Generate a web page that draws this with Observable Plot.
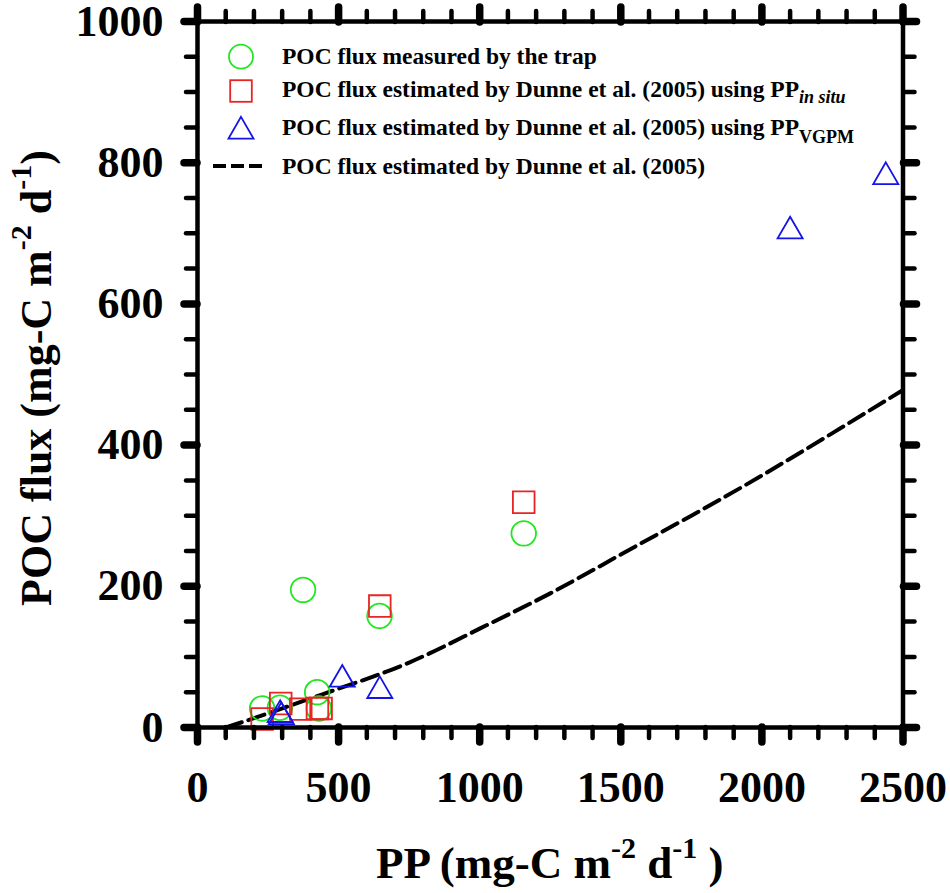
<!DOCTYPE html>
<html>
<head>
<meta charset="utf-8">
<script src="https://cdn.jsdelivr.net/npm/d3@7"></script>
<script src="https://cdn.jsdelivr.net/npm/@observablehq/plot@0.6"></script>
<style>
  html, body { margin: 0; padding: 0; background: #fff; }
  #chart { position: relative; width: 950px; height: 893px; }
</style>
</head>
<body>
<div id="chart"></div>
<script>
// ---- data ----
const trapPP   = [229, 292, 374, 424, 430, 645, 1156];
const trapPOC  = [27, 28, 195, 50, 27, 158, 275];

const insituPP  = [229, 295, 366, 425, 438, 646, 1156];
const insituPOC = [12, 34, 26, 27, 27, 172, 319];

const vgpmPP  = [293, 297, 513, 646, 2100, 2439];
const vgpmPOC = [18, 15, 68, 52, 703, 780];

const curvePP  = [100, 250, 500, 750, 1000, 1250, 1500, 1750, 2000, 2250, 2500];
const curvePOC = [0, 20, 55, 92, 140, 190, 245, 300, 357, 417, 478];

const xMajor = [0, 500, 1000, 1500, 2000, 2500];
const xMinor = [100, 200, 300, 400, 600, 700, 800, 900, 1100, 1200, 1300, 1400,
                1600, 1700, 1800, 1900, 2100, 2200, 2300, 2400];
const yMajor = [0, 200, 400, 600, 800, 1000];
const yMinor = [50, 100, 150, 250, 300, 350, 450, 500, 550, 650, 700, 750, 850, 900, 950];

const legendLabels = [
  "POC flux measured by the trap",
  "POC flux estimated by Dunne et al. (2005) using PP",
  "POC flux estimated by Dunne et al. (2005) using PP",
  "POC flux estimated by Dunne et al. (2005)"
];
const legendSubs = [null, "in situ", "VGPM", null];

const colTrap = "#22e622", colInsitu = "#e82424", colVgpm = "#1414e6";

const toRows = (xs, ys) => xs.map((x, i) => ({x, y: ys[i]}));
const trap = toRows(trapPP, trapPOC);
const insitu = toRows(insituPP, insituPOC);
const vgpm = toRows(vgpmPP, vgpmPOC);
const curve = toRows(curvePP, curvePOC);

const blank = () => "";
const font = "Liberation Serif, Times New Roman, serif";

const plot = Plot.plot({
  width: 950,
  height: 893,
  marginLeft: 197,
  marginRight: 47.5,
  marginTop: 21,
  marginBottom: 166,
  style: {fontFamily: font, fontWeight: "bold", background: "#fff", color: "#000"},
  x: {domain: [0, 2500], axis: null, label: null},
  y: {domain: [0, 1000], axis: null, label: null},
  marks: [
    Plot.line(curve, {x: "x", y: "y", curve: "natural", stroke: "#000", strokeWidth: 4, strokeDasharray: "17,7"}),
    Plot.dot(trap, {x: "x", y: "y", symbol: "circle", r: 12.3, stroke: colTrap, strokeWidth: 1.8, fill: "none"}),
    Plot.dot(insitu, {x: "x", y: "y", symbol: "square", r: 12.2, stroke: colInsitu, strokeWidth: 1.8, fill: "none"}),
    Plot.dot(vgpm, {x: "x", y: "y", symbol: "triangle", r: 9.3, stroke: colVgpm, strokeWidth: 1.8, fill: "none"}),
    Plot.frame({stroke: "#000", strokeWidth: 4.5}),
    // minor ticks
    Plot.axisX(xMinor, {anchor: "bottom", tickSize: 11, strokeWidth: 4.5, strokeLinecap: "round", tickFormat: blank, label: null}),
    Plot.axisX(xMinor, {anchor: "top", tickSize: 11, strokeWidth: 4.5, strokeLinecap: "round", tickFormat: blank, label: null}),
    Plot.axisY(yMinor, {anchor: "left", tickSize: 11, strokeWidth: 4.5, strokeLinecap: "round", tickFormat: blank, label: null}),
    Plot.axisY(yMinor, {anchor: "right", tickSize: 11, strokeWidth: 4.5, strokeLinecap: "round", tickFormat: blank, label: null}),
    // major ticks
    Plot.axisX(xMajor, {anchor: "bottom", tickSize: 15, strokeWidth: 7.5, strokeLinecap: "round", tickFormat: blank, label: null}),
    Plot.axisX(xMajor, {anchor: "top", tickSize: 15, strokeWidth: 7.5, strokeLinecap: "round", tickFormat: blank, label: null}),
    Plot.axisY(yMajor, {anchor: "left", tickSize: 13, strokeWidth: 7.5, strokeLinecap: "round", tickFormat: blank, label: null}),
    Plot.axisY(yMajor, {anchor: "right", tickSize: 13, strokeWidth: 7.5, strokeLinecap: "round", tickFormat: blank, label: null}),
    // tick labels
    Plot.axisX(xMajor, {anchor: "bottom", tickSize: 0, tickPadding: 43, fontSize: 44, tickFormat: d => String(d), label: null}),
    Plot.axisY(yMajor, {anchor: "left", tickSize: 0, tickPadding: 34, fontSize: 44, tickFormat: d => String(d), label: null})
  ]
});

document.getElementById("chart").appendChild(plot);

// ---- axis titles and legend (text with super/subscripts) ----
const svg = d3.select(plot);
const frameL = 197, frameR = 950 - 47.5, frameT = 21, frameB = 893 - 166;

function titleWithSups(g, parts) {
  parts.forEach(p => {
    const t = g.append("tspan").text(p.t);
    if (p.sup) t.attr("font-size", 30).attr("dy", -20);
    if (p.down) t.attr("dy", 20);
  });
}

const xt = svg.append("text")
  .attr("x", (frameL + frameR) / 2).attr("y", 878)
  .attr("text-anchor", "middle")
  .attr("font-family", font).attr("font-weight", "bold").attr("font-size", 45).attr("fill", "#000");
titleWithSups(xt, [
  {t: "PP (mg-C m"}, {t: "-2", sup: true}, {t: " d", down: true}, {t: "-1", sup: true}, {t: " )", down: true}
]);

const yt = svg.append("text")
  .attr("transform", `translate(51,${(frameT + frameB) / 2 + 4}) rotate(-90)`)
  .attr("text-anchor", "middle")
  .attr("font-family", font).attr("font-weight", "bold").attr("font-size", 44).attr("fill", "#000");
titleWithSups(yt, [
  {t: "POC flux (mg-C m"}, {t: "-2", sup: true}, {t: " d", down: true}, {t: "-1", sup: true}, {t: ")", down: true}
]);

const lg = svg.append("g").attr("font-family", font).attr("font-weight", "bold")
  .attr("fill", "#000").attr("text-anchor", "start");
const symX = 241;
const baselines = [64, 97, 135, 174];
lg.append("circle").attr("cx", symX).attr("cy", 56.7).attr("r", 12)
  .attr("fill", "none").attr("stroke", colTrap).attr("stroke-width", 1.8);
lg.append("rect").attr("x", symX - 10.8).attr("y", 91 - 10.8).attr("width", 21.6).attr("height", 21.6)
  .attr("fill", "none").attr("stroke", colInsitu).attr("stroke-width", 1.8);
lg.append("path").attr("d", d3.symbol(d3.symbolTriangle, Math.PI * 9.3 * 9.3)())
  .attr("transform", `translate(${symX},131.3)`)
  .attr("fill", "none").attr("stroke", colVgpm).attr("stroke-width", 1.8);
lg.append("line").attr("x1", 213).attr("x2", 262).attr("y1", 166).attr("y2", 166)
  .attr("stroke", "#000").attr("stroke-width", 4).attr("stroke-dasharray", "13,5");

legendLabels.forEach((lab, i) => {
  const t = lg.append("text").attr("x", 282).attr("y", baselines[i]).attr("font-size", 23.5)
    .attr("text-anchor", "start");
  t.append("tspan").text(lab);
  if (legendSubs[i]) {
    const s = t.append("tspan").text(legendSubs[i]).attr("font-size", 18)
      .attr("dy", i === 1 ? 6 : 8);
    if (i === 1) s.attr("font-style", "italic");
  }
});
</script>
</body>
</html>
